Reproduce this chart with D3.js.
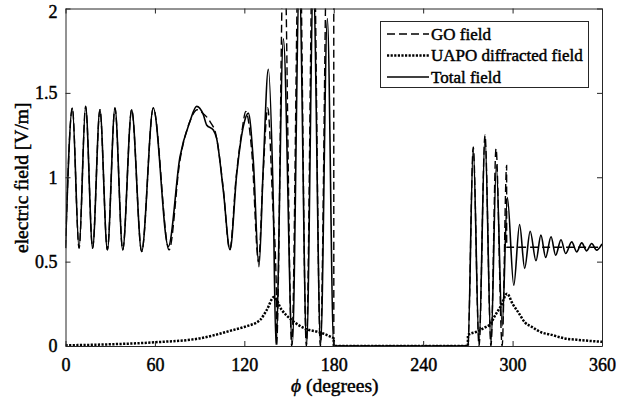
<!DOCTYPE html>
<html>
<head>
<meta charset="utf-8">
<script src="https://cdn.jsdelivr.net/npm/d3@7"></script>
<style>
  html, body { margin: 0; padding: 0; background: #fff; }
  svg { display: block; }
  text { font-family: "Liberation Serif", "Times New Roman", serif; fill: #000; }
</style>
</head>
<body>
<script>
// ---------- data ----------
const xTicks = [0, 60, 120, 180, 240, 300, 360];
const yTicks = [0, 0.5, 1, 1.5, 2];
const seriesNames = ["GO field", "UAPO diffracted field", "Total field"];

// [phi (deg), |E| (V/m)]
const totalField = [
  [0,0.58],[4.6,1.41],[9.1,0.58],[13.5,1.42],[18.2,0.58],[23.1,1.40],[28.1,0.57],[33.2,1.41],
  [38.4,0.57],[44.4,1.40],[51.1,0.56],[58.9,1.41],[69,0.59],[76.8,1.12],[83.5,1.33],[88,1.42],
  [92.5,1.37],[94.7,1.31],[99.2,1.28],[101.4,1.23],[105.9,0.92],[110.4,0.57],[114.9,1.02],
  [119.3,1.30],[122.7,1.38],[126,1.10],[129.8,0.47],[132.7,1.06],[136.1,1.64],[139.4,0.86],
  [141.2,0.01],[146.2,1.82],[152.2,0.01],[156.9,2.15],[161.8,0.01],[166.3,2.15],[171.2,0.01],
  [175.7,1.94],[180,0],[270,0],[273.6,1.17],[277.5,0.01],[281.5,1.24],[285.5,0.01],[289.1,1.07],
  [293,0.12],[296.5,0.88],[300.8,0.36],[304.7,0.72],[308.1,0.46],[311.8,0.68],[315.7,0.505],
  [319,0.657],[322.2,0.525],[325.8,0.647],[328.9,0.538],[332.5,0.63],[335.6,0.548],[339.7,0.617],
  [343,0.558],[346.4,0.611],[349.7,0.564],[353.1,0.607],[356.4,0.568],[360,0.605]
];

const goField = [
  [0,0.58],[4.6,1.41],[9.1,0.58],[13.5,1.42],[18.2,0.58],[23.1,1.40],[28.1,0.57],[33.2,1.41],
  [38.4,0.57],[44.4,1.40],[51.1,0.56],[58.9,1.41],[69.5,0.57],[76.8,1.10],[83,1.32],[88.5,1.40],
  [92,1.38],[97,1.33],[101,1.25],[105.9,0.93],[110.2,0.57],[114.5,1.00],[118.5,1.28],[121,1.39],
  [125,1.15],[129.5,0.50],[132.5,1.00],[135.7,1.41],[139,0.85],[141.5,0.33],[141.6,0],
  [146.6,2.5],[151.8,0],[156.9,2.6],[161.6,0],[166.3,2.6],[171,0],[176,2.6],[178,2.5],[180,2.3],
  [180.05,0],[270,0],[273.6,1.18],[277.5,0],[281.5,1.25],[285.5,0],[288.9,1.17],[293,0],
  [296,1.07],[296.05,0.585],[360,0.585]
];

const uapoField = [
  [0,0.004],[30,0.01],[60,0.022],[90,0.045],[112.6,0.095],[120.4,0.114],[130.5,0.154],
  [135,0.213],[139.9,0.29],[145,0.215],[151.8,0.154],[161.8,0.099],[168.8,0.085],[178.8,0.051],
  [180,0.045],[180.05,0],[270,0],[270.05,0.065],[276,0.085],[281.5,0.11],[285,0.13],[288.2,0.18],
  [292,0.235],[296.3,0.31],[300,0.25],[303.8,0.20],[308.3,0.14],[312.8,0.114],[319.5,0.08],
  [325.3,0.068],[335,0.045],[343,0.037],[360,0.025]
];

// ---------- layout ----------
const W = 637, H = 408;
const pL = 65.5, pR = 602, pT = 8.5, pB = 346;
const axisColor = "#262626";
const fsTick = 18, fsLabel = 19.5, fsLegend = 17;
const boldStroke = 0.45;

const svg = d3.select("body").append("svg").attr("width", W).attr("height", H);

const x = d3.scaleLinear().domain([0, 360]).range([pL, pR]);
const y = d3.scaleLinear().domain([0, 2]).range([pB, pT]);

svg.append("defs").append("clipPath").attr("id", "plotclip")
  .append("rect").attr("x", pL).attr("y", pT).attr("width", pR - pL).attr("height", pB - pT);

const line = d3.line().x(d => x(d[0])).y(d => y(d[1])).curve(d3.curveMonotoneX);

const g = svg.append("g").attr("clip-path", "url(#plotclip)");

const dotDash = "2.2,1.4", dashDash = "8,4";
g.append("path").datum(uapoField).attr("d", line)
  .attr("fill", "none").attr("stroke", "#000").attr("stroke-width", 2.5)
  .attr("stroke-dasharray", dotDash);
g.append("path").datum(goField).attr("d", line)
  .attr("fill", "none").attr("stroke", "#000").attr("stroke-width", 1.4)
  .attr("stroke-dasharray", dashDash);
g.append("path").datum(totalField).attr("d", line)
  .attr("fill", "none").attr("stroke", "#000").attr("stroke-width", 1.6);

// ---------- axes (box with inward ticks) ----------
const tickLen = 5;
function styleAxis(sel) {
  sel.attr("font-family", null).attr("font-size", null);
  sel.selectAll(".domain").attr("stroke", axisColor).attr("stroke-width", 1);
  sel.selectAll(".tick line").attr("stroke", axisColor).attr("stroke-width", 1);
  sel.selectAll(".tick text").attr("font-size", fsTick).attr("fill", "#000")
    .attr("stroke", "#000").attr("stroke-width", boldStroke)
    .style("font-family", "'Liberation Serif', 'Times New Roman', serif");
}

const xBottom = svg.append("g").attr("transform", `translate(0,${pB})`)
  .call(d3.axisBottom(x).tickValues(xTicks).tickSize(-tickLen).tickSizeOuter(0).tickPadding(12).tickFormat(d3.format("d")));
styleAxis(xBottom);

const xTop = svg.append("g").attr("transform", `translate(0,${pT})`)
  .call(d3.axisTop(x).tickValues(xTicks).tickSize(-tickLen).tickSizeOuter(0).tickFormat(""));
styleAxis(xTop);

const yLeft = svg.append("g").attr("transform", `translate(${pL},0)`)
  .call(d3.axisLeft(y).tickValues(yTicks).tickSize(-tickLen).tickSizeOuter(0).tickPadding(8).tickFormat(d => String(d)));
styleAxis(yLeft);
yLeft.selectAll(".tick text").filter(d => d === 2).attr("dy", "0.5em");

const yRight = svg.append("g").attr("transform", `translate(${pR},0)`)
  .call(d3.axisRight(y).tickValues(yTicks).tickSize(-tickLen).tickSizeOuter(0).tickFormat(""));
styleAxis(yRight);

// ---------- axis labels ----------
const xl = svg.append("text").attr("x", (pL + pR) / 2 + 1).attr("y", 392)
  .attr("text-anchor", "middle").attr("font-size", fsLabel)
  .attr("stroke", "#000").attr("stroke-width", boldStroke);
xl.append("tspan").attr("font-style", "italic").text("\u03D5");
xl.append("tspan").text(" (degrees)");

svg.append("text")
  .attr("transform", `translate(28,${(pT + pB) / 2 + 0.5}) rotate(-90)`)
  .attr("text-anchor", "middle").attr("font-size", fsLabel)
  .attr("stroke", "#000").attr("stroke-width", boldStroke)
  .text("electric field [V/m]");

// ---------- legend ----------
const lg = svg.append("g");
lg.append("rect").attr("x", 380.5).attr("y", 21.5).attr("width", 208).attr("height", 66)
  .attr("fill", "#fff").attr("stroke", axisColor).attr("stroke-width", 1);
const legStyles = [
  { w: 1.4, dash: dashDash },
  { w: 2.5, dash: dotDash },
  { w: 1.6, dash: null }
];
seriesNames.forEach((name, i) => {
  const yy = 34 + i * 21.5;
  const l = lg.append("line").attr("x1", 387).attr("x2", 429).attr("y1", yy).attr("y2", yy)
    .attr("stroke", "#000").attr("stroke-width", legStyles[i].w);
  if (legStyles[i].dash) l.attr("stroke-dasharray", legStyles[i].dash);
  lg.append("text").attr("x", 431).attr("y", yy + 5.5).attr("font-size", fsLegend)
    .attr("stroke", "#000").attr("stroke-width", boldStroke).text(name);
});
</script>
</body>
</html>
